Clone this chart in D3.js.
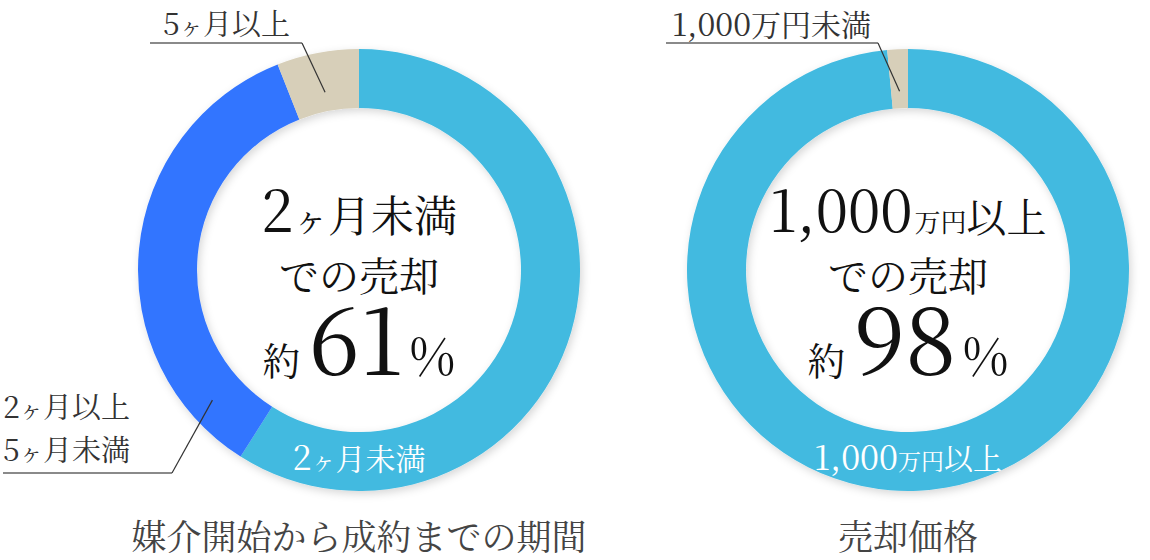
<!DOCTYPE html>
<html>
<head>
<meta charset="utf-8">
<script src="https://cdn.jsdelivr.net/npm/d3@7"></script>
<style>
  html, body { margin: 0; padding: 0; background: #fff; }
  svg text { font-family: "Noto Serif CJK JP", "Liberation Serif", "Noto Sans CJK JP", serif; }
</style>
</head>
<body>
<div id="chart"></div>
<script>
// data
var periodLabels = ["2ヶ月未満", "2ヶ月以上5ヶ月未満", "5ヶ月以上"];
var periodValues = [59, 35, 6];
var priceLabels = ["1,000万円以上", "1,000万円未満"];
var priceValues = [98.5, 1.5];
var chartTitles = ["媒介開始から成約までの期間", "売却価格"];
var headlinePct = [61, 98];

var ringColors = ["#42bae0", "#3275ff", "#d7cfb9"];

var W = 1150, H = 560;
var rIn = 162, rOut = 221;

var svg = d3.select("#chart").append("svg")
  .attr("width", W)
  .attr("height", H);

var defs = svg.append("defs");
var shadow = defs.append("filter").attr("id", "shadow")
  .attr("x", "-20%").attr("y", "-20%").attr("width", "140%").attr("height", "140%");
shadow.append("feDropShadow")
  .attr("dx", 2).attr("dy", 3)
  .attr("stdDeviation", 4)
  .attr("flood-color", "#000")
  .attr("flood-opacity", 0.16);

var pie = d3.pie().sort(null).value(function(d){ return d; });
var arc = d3.arc().innerRadius(rIn).outerRadius(rOut);

// horizontal position of the two donuts
var x = d3.scalePoint().domain([0, 1]).range([359, 908]);
var cy = 270;

function donut(i, values, colors){
  var g = svg.append("g").attr("transform", "translate(" + x(i) + "," + cy + ")");
  g.append("g").attr("filter", "url(#shadow)")
    .selectAll("path")
    .data(pie(values))
    .enter().append("path")
    .attr("d", arc)
    .attr("fill", function(d, j){ return colors[j]; });
  return g;
}

// point on the ring at a fraction of a slice
function ringPoint(d, frac, r){
  var a = d.startAngle + (d.endAngle - d.startAngle) * frac;
  return d3.pointRadial(a, r);
}

function leader(g, a, b, p){
  g.append("path")
    .attr("d", d3.line()([a, b]))
    .attr("fill", "none")
    .attr("stroke", "#8a8a8a")
    .attr("stroke-width", 2);
  g.append("path")
    .attr("d", d3.line()([b, p]))
    .attr("fill", "none")
    .attr("stroke", "#333")
    .attr("stroke-width", 1.2);
}

// a text line made of parts: [text, size, dx]; ヶ is set a bit smaller
function richText(g, parts, tx, ty, fill, anchor){
  var t = g.append("text")
    .attr("x", tx).attr("y", ty)
    .attr("text-anchor", anchor || "middle")
    .attr("fill", fill);
  parts.forEach(function(p){
    var bits = p[0].split("ヶ");
    bits.forEach(function(b, k){
      if (k > 0) {
        t.append("tspan").attr("font-size", p[1] * 0.8).text("ヶ");
      }
      if (b === "") return;
      var s = t.append("tspan").attr("font-size", p[1]).text(b);
      if (k === 0 && p[2]) s.attr("dx", p[2]);
    });
  });
  return t;
}

// ---- left donut
var gL = donut(0, periodValues, ringColors);
var arcsL = pie(periodValues);

richText(gL, [["2", 58], ["ヶ月未満", 43]], 0, -38.5, "#111");
richText(gL, [["での売却", 40]], 0, 20.5, "#111");
richText(gL, [["約", 38], [String(headlinePct[0]), 92, 8], ["%", 50, 6]], 0, 105, "#111");

// white label in ring
richText(gL, [["2", 34], ["ヶ月未満", 30]], 0, 200, "#fff");

// 5ヶ月以上 label
var pTop = d3.pointRadial((arcsL[2].startAngle + arcsL[2].endAngle) / 2, 181);
leader(gL, [150 - x(0), 43 - cy], [302 - x(0), 43 - cy], pTop);
richText(gL, [["5", 30], ["ヶ月以上", 29]], 163 - x(0), 35 - cy, "#333", "start");

// 2ヶ月以上5ヶ月未満 label
var pMid = ringPoint(arcsL[1], 0.127, 196);
leader(gL, [3 - x(0), 473 - cy], [172 - x(0), 473 - cy], pMid);
richText(gL, [["2", 30], ["ヶ月以上", 29]], 3 - x(0), 417.5 - cy, "#333", "start");
richText(gL, [["5", 30], ["ヶ月未満", 29]], 3 - x(0), 460.5 - cy, "#333", "start");

gL.append("text")
  .attr("x", 0).attr("y", 550 - cy)
  .attr("text-anchor", "middle")
  .attr("font-size", 35)
  .attr("fill", "#444")
  .text(chartTitles[0]);

// ---- right donut
var gR = donut(1, priceValues, [ringColors[0], ringColors[2]]);
var arcsR = pie(priceValues);

richText(gR, [["1,000", 58], ["万円", 26, 2], ["以上", 40]], 0, -38.5, "#111");
richText(gR, [["での売却", 40]], 0, 20.5, "#111");
richText(gR, [["約", 38], [String(headlinePct[1]), 92, 8], ["%", 50, 6]], 0, 105, "#111");

richText(gR, [["1,000", 34], ["万円", 23], ["以上", 29]], 0, 200, "#fff");

var pTopR = d3.pointRadial((arcsR[1].startAngle + arcsR[1].endAngle) / 2 - 2 * Math.PI, 179);
leader(gR, [666 - x(1), 43 - cy], [878 - x(1), 43 - cy], pTopR);
richText(gR, [["1,000", 32], ["万円未満", 30]], 672 - x(1), 35.5 - cy, "#333", "start");

gR.append("text")
  .attr("x", 0).attr("y", 550 - cy)
  .attr("text-anchor", "middle")
  .attr("font-size", 35)
  .attr("fill", "#444")
  .text(chartTitles[1]);
</script>
</body>
</html>
